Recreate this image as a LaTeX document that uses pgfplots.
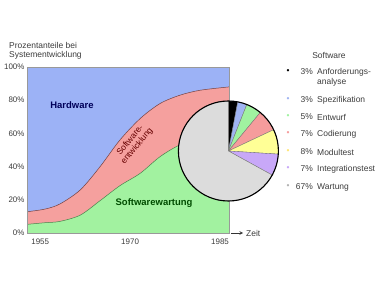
\documentclass[border=0pt]{standalone}
\usepackage{pgfplots}
\usepackage{pgfplotstable}
\pgfplotsset{compat=1.18}
\usepackage{fontspec}
\setmainfont{Liberation Sans}

\definecolor{hwblue}{RGB}{156,178,246}
\definecolor{swred}{RGB}{245,160,158}
\definecolor{swgreen}{RGB}{162,242,160}
\definecolor{pieblue}{RGB}{160,180,242}
\definecolor{piegreen}{RGB}{160,242,160}
\definecolor{piered}{RGB}{245,156,156}
\definecolor{pieyellow}{RGB}{255,255,150}
\definecolor{piepurple}{RGB}{200,168,248}
\definecolor{piegray}{RGB}{220,220,220}
\definecolor{txt}{RGB}{60,60,60}

% share of effort: top of maintenance band and top of development band (percent)
\pgfplotstableread{
year    wartung  entwicklung
1952.8  5.2      12.8
1955.8  6.2      14.4
1958.3  7.0      17.5
1961.7  10.8     26.0
1965.0  19.5     40.0
1968.3  28.5     56.0
1971.7  36.0     69.0
1975.0  46.0     78.0
1978.3  53.0     83.0
1981.7  56.0     86.0
1986.5  58.0     88.0
}\anteile

\begin{document}
\begin{tikzpicture}[x=1bp,y=1bp]
\useasboundingbox (0,0) rectangle (384,288);
\begin{axis}[
  at={(27bp,55bp)}, anchor=south west,
  scale only axis, width=202bp, height=166bp,
  xmin=1952.8, xmax=1986.5, ymin=0, ymax=100,
  axis background/.style={fill=hwblue},
  axis line style={black!40, line width=0.5pt},
  xtick={1955,1970,1985}, ytick={0,20,...,100},
  major tick length=0pt,
  /pgf/number format/assume math mode=true,
  /pgf/number format/1000 sep={},
  yticklabel={\pgfmathprintnumber{\tick}\%},
  tick label style={font=\fontsize{8}{9}\selectfont, text=txt},
  xticklabel style={yshift=-2bp},
  yticklabel style={xshift=1bp},
  axis on top,
]
  \addplot[fill=swred, draw=none, smooth, tension=0.5]
    table[x=year, y=entwicklung] {\anteile} \closedcycle;
  \addplot[draw=black!60!red!50!gray, line width=0.5pt, smooth, tension=0.5]
    table[x=year, y=entwicklung] {\anteile};
  \addplot[fill=swgreen, draw=none, smooth, tension=0.5]
    table[x=year, y=wartung] {\anteile} \closedcycle;
  \addplot[draw=black!50!green!40!gray, line width=0.5pt, smooth, tension=0.5]
    table[x=year, y=wartung] {\anteile};

  \node[font=\fontsize{9.5}{10}\bfseries, text=blue!35!black]
    at (axis cs:1960.3,77) {Hardware};
  \node[font=\fontsize{9.5}{10}\bfseries, text=green!30!black]
    at (axis cs:1974,18) {Softwarewartung};
  \node[font=\fontsize{8.5}{9}\selectfont, text=red!40!black, rotate=50,
        align=center] at (axis cs:1970.6,54) {Software-\\entwicklung};

  \coordinate (pc) at (axis cs:1986.4,49.4);
\end{axis}

% pie of software effort, clockwise from 12 o'clock
\def\pr{50}
\foreach \p/\c [remember=\e as \s (initially 90)] in
  {3/black, 3/pieblue, 5/piegreen, 7/piered, 8/pieyellow, 7/piepurple, 67/piegray} {
  \pgfmathsetmacro\e{\s-3.6*\p}
  \filldraw[fill=\c, draw=black!55, line width=0.35pt]
    (pc) -- ++(\s:\pr) arc[start angle=\s, end angle=\e, radius=\pr] -- cycle;
}
\draw[line width=1.1pt] (pc) circle (\pr);

% time arrow
\draw[-stealth, line width=0.6pt, black!80] (231,55) -- (243,55);
\node[anchor=west, font=\fontsize{8.5}{9}\selectfont, text=txt, inner sep=0] at (246,55) {Zeit};

% y axis caption
\node[anchor=west, font=\fontsize{8.5}{9}\selectfont, text=txt, inner sep=0] at (9,243) {Prozentanteile bei};
\node[anchor=west, font=\fontsize{8.5}{9}\selectfont, text=txt, inner sep=0] at (9,233) {Systementwicklung};

% legend of the pie
\begin{scope}[every node/.style={font=\fontsize{8.5}{9}\selectfont, text=txt, inner sep=0}]
  \node at (329,233) {Software};
  \foreach \y/\c/\pct/\name in {
      216/black/3/Anforderungs-,
      188/pieblue/3/Spezifikation,
      171/piegreen/5/Entwurf,
      154/piered/7/Codierung,
      136/pieyellow!80!orange/8/Modultest,
      119/piepurple/7/Integrationstest,
      101/gray!60/67/Wartung} {
    \node[text=\c] at (288,\y) {•};
    \node[anchor=east] at (313,\y) {\pct\%};
    \node[anchor=west] at (317,\y) {\name};
  }
  \node[anchor=west] at (317,206) {analyse};
\end{scope}
\end{tikzpicture}
\end{document}
